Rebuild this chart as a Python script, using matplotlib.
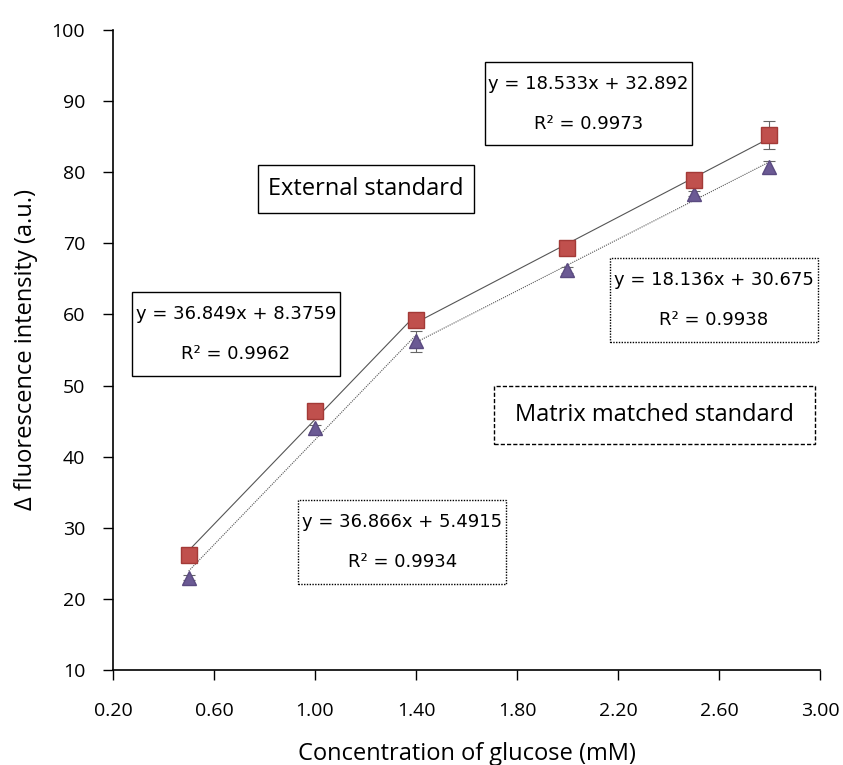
import numpy as np
import matplotlib.pyplot as plt
from matplotlib.patches import Rectangle

# glucose concentration (mM) and fluorescence response
conc = [0.5, 1.0, 1.4, 2.0, 2.5, 2.8]
ext_mean = [26.2, 46.4, 59.2, 69.3, 78.9, 85.2]
ext_err = [0.3, 0.8, 0.5, 0.4, 0.5, 2.0]
mm_mean = [23.0, 44.0, 56.2, 66.2, 77.0, 80.8]
mm_err = [0.3, 0.5, 1.5, 0.4, 0.4, 0.8]

# piecewise linear fits (slope, intercept, r2) for low and high ranges
ext_fits = [(36.849, 8.3759, 0.9962), (18.533, 32.892, 0.9973)]
mm_fits = [(36.866, 5.4915, 0.9934), (18.136, 30.675, 0.9938)]
fit_ranges = [(0.5, 1.4), (1.4, 2.8)]

xticks = [0.2, 0.6, 1.0, 1.4, 1.8, 2.2, 2.6, 3.0]
yticks = [10, 20, 30, 40, 50, 60, 70, 80, 90, 100]

LABEL_FONT = ['Open Sans', 'DejaVu Sans']

fig = plt.figure(figsize=(8.43, 7.65), dpi=100)
ax = fig.add_axes([0.134, 0.1242, 0.8387, 0.8366])

# trend lines
for (m, b, _), (x0, x1) in zip(ext_fits, fit_ranges):
    xs = np.array([x0, x1])
    ax.plot(xs, m * xs + b, color='#555555', lw=0.8, zorder=2)
for (m, b, _), (x0, x1) in zip(mm_fits, fit_ranges):
    xs = np.array([x0, x1])
    ax.plot(xs, m * xs + b, color='#555555', lw=0.8, ls=(0, (1, 1)), zorder=2)

ax.errorbar(conc, ext_mean, yerr=ext_err, fmt='s', ms=12, mfc='#C0504D',
            mec='#A33A37', ecolor='#666666', elinewidth=0.8, capsize=4,
            capthick=0.8, zorder=4)
ax.errorbar(conc, mm_mean, yerr=mm_err, fmt='^', ms=10, mfc='#6B5A94',
            mec='#5A4A80', ecolor='#666666', elinewidth=0.8, capsize=4,
            capthick=0.8, zorder=3)

ax.set_xlim(0.2, 3.0)
ax.set_ylim(10, 100)
ax.set_xticks(xticks)
ax.set_xticklabels([f'{v:.2f}' for v in xticks])
ax.set_yticks(yticks)
ax.spines['top'].set_visible(False)
ax.spines['right'].set_visible(False)
for s in ('left', 'bottom'):
    ax.spines[s].set_linewidth(1.2)
ax.tick_params(direction='out', length=7, width=1, labelsize=14)
ax.tick_params(axis='x', pad=16)
ax.tick_params(axis='y', pad=13)
for lab in ax.get_xticklabels() + ax.get_yticklabels():
    lab.set_family(LABEL_FONT)

ax.set_xlabel('Concentration of glucose (mM)', fontsize=17, labelpad=16,
              family=LABEL_FONT)
ax.set_ylabel('Δ fluorescence intensity (a.u.)', fontsize=17, labelpad=10,
              family=LABEL_FONT)


def eq_box(x0, x1, y0, y1, fit, style):
    m, b, r2 = fit
    ax.add_patch(Rectangle((x0, y1), x1 - x0, y0 - y1, transform=ax.transAxes,
                           fc='white', ec='black', lw=1.0, ls=style, zorder=5,
                           clip_on=False))
    cx = (x0 + x1) / 2
    h = y0 - y1
    ax.text(cx, y0 - h * 0.26, f'y = {m}x + {b}', transform=ax.transAxes,
            ha='center', va='center', fontsize=13, zorder=6)
    ax.text(cx, y0 - h * 0.74, f'R² = {r2:.4f}', transform=ax.transAxes,
            ha='center', va='center', fontsize=13, zorder=6)


eq_box(0.526, 0.819, 0.950, 0.820, ext_fits[1], '-')
eq_box(0.027, 0.321, 0.591, 0.459, ext_fits[0], '-')
eq_box(0.703, 0.997, 0.644, 0.513, mm_fits[1], (0, (1, 1)))
eq_box(0.262, 0.556, 0.266, 0.134, mm_fits[0], (0, (1, 1)))


def name_box(x0, x1, y0, y1, label, style):
    ax.add_patch(Rectangle((x0, y1), x1 - x0, y0 - y1, transform=ax.transAxes,
                           fc='white', ec='black', lw=1.0, ls=style, zorder=5,
                           clip_on=False))
    ax.text((x0 + x1) / 2, (y0 + y1) / 2, label, transform=ax.transAxes,
            ha='center', va='center', fontsize=17, family=LABEL_FONT, zorder=6)


name_box(0.205, 0.511, 0.789, 0.714, 'External standard', '-')
name_box(0.539, 0.993, 0.444, 0.353, 'Matrix matched standard', (0, (3, 1.5)))

fig.savefig('out.png', dpi=100)
